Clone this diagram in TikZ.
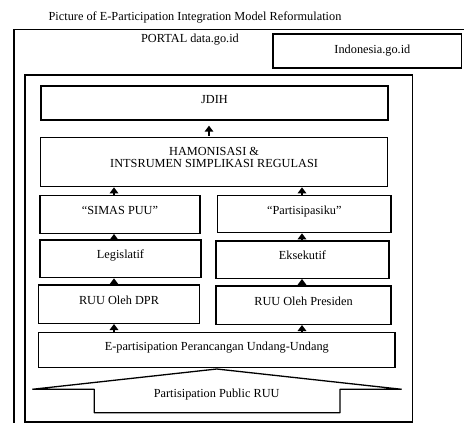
\documentclass[tikz,border=0pt]{standalone}
\usepackage{fontspec}
\setmainfont{Liberation Serif}
\usetikzlibrary{arrows.meta}
\begin{document}
\begin{tikzpicture}[x=1pt,y=-1pt,
  box/.style={draw, line width=1.3pt, inner sep=0pt, text height=8.5pt, text depth=8.5pt, font=\fontsize{12.3}{12}\selectfont},
  arr/.style={-{Triangle[width=8.5pt,length=6pt]}, line width=1.9pt},
  lbl/.style={anchor=base, inner sep=0pt, font=\fontsize{12.3}{12}\selectfont}]
\useasboundingbox (0,0) rectangle (464,423);
\clip (0,0) rectangle (464,423);
% title
\node[lbl] (title) at (195,20) {Picture of E-Participation Integration Model Reformulation};
% outer frame (extends past the picture)
\draw[line width=1.5pt] (14,430) -- (14,29.5) -- (470,29.5);
\node[lbl] (portal) at (190,42) {PORTAL data.go.id};
\node[box, minimum width=188.7pt, minimum height=34pt, text height=10.5pt, text depth=6.5pt] (indo) at (367.4,51) {\hspace*{10pt}Indonesia.go.id};
% inner frame
\draw[line width=1.3pt] (25,75) rectangle (412.3,422);
% boxes
\node[box, minimum width=347pt, minimum height=34pt] (jdih) at (214.5,103) {JDIH};
\node[box, minimum width=347.2pt, minimum height=49.4pt, text height=8.5pt, text depth=9pt] (hamon) at (214.1,162)
  {\begin{tabular}{@{}c@{}}HAMONISASI \&\\INTSRUMEN SIMPLIKASI REGULASI\end{tabular}};
\node[box, minimum width=160pt, minimum height=37.6pt] (simas) at (120,214.5) {``SIMAS PUU''};
\node[box, minimum width=173.3pt, minimum height=37pt] (partis) at (304.3,214.2) {``Partisipasiku''};
\node[box, minimum width=161pt, minimum height=37.7pt] (legis) at (120.5,258.8) {Legislatif};
\node[box, minimum width=173pt, minimum height=37.3pt] (eksek) at (302.5,259.6) {Eksekutif};
\node[box, minimum width=160.6pt, minimum height=38.3pt] (dpr) at (119,304.2) {RUU Oleh DPR};
\node[box, minimum width=175pt, minimum height=38.3pt] (pres) at (303.5,305.2) {RUU Oleh Presiden};
\node[box, minimum width=356.3pt, minimum height=34.6pt] (epart) at (216.8,350) {E-partisipation Perancangan Undang-Undang};
% arrows
\coordinate (xl) at (114,0);
\coordinate (xr) at (302,0);
\coordinate (xm) at (209,0);
\draw[arr, shorten <=1pt, shorten >=5pt] (hamon.north -| xm) -- (jdih.south -| xm);
\draw[arr] (simas.north -| xl) -- (hamon.south -| xl);
\draw[arr] (partis.north -| xr) -- (hamon.south -| xr);
\draw[arr] (legis.north -| xl) -- (simas.south -| xl);
\draw[arr] (eksek.north -| xr) -- (partis.south -| xr);
\draw[arr] (dpr.north -| xl) -- (legis.south -| xl);
\draw[arr] (pres.north -| xr) -- (eksek.south -| xr);
\draw[arr] (epart.north -| xl) -- (dpr.south -| xl);
\draw[arr] (epart.north -| xr) -- (pres.south -| xr);
% public participation block arrow
\draw[line width=1.3pt, line join=bevel] (32.3,389.3) -- (94.3,389.3) -- (94.3,412.7) -- (340,412.7) -- (340,389.3) -- (401.7,389.3) -- (216.7,369) -- cycle;
\node[lbl] (public) at (216.7,397.5) {Partisipation Public RUU};
\end{tikzpicture}
\end{document}
